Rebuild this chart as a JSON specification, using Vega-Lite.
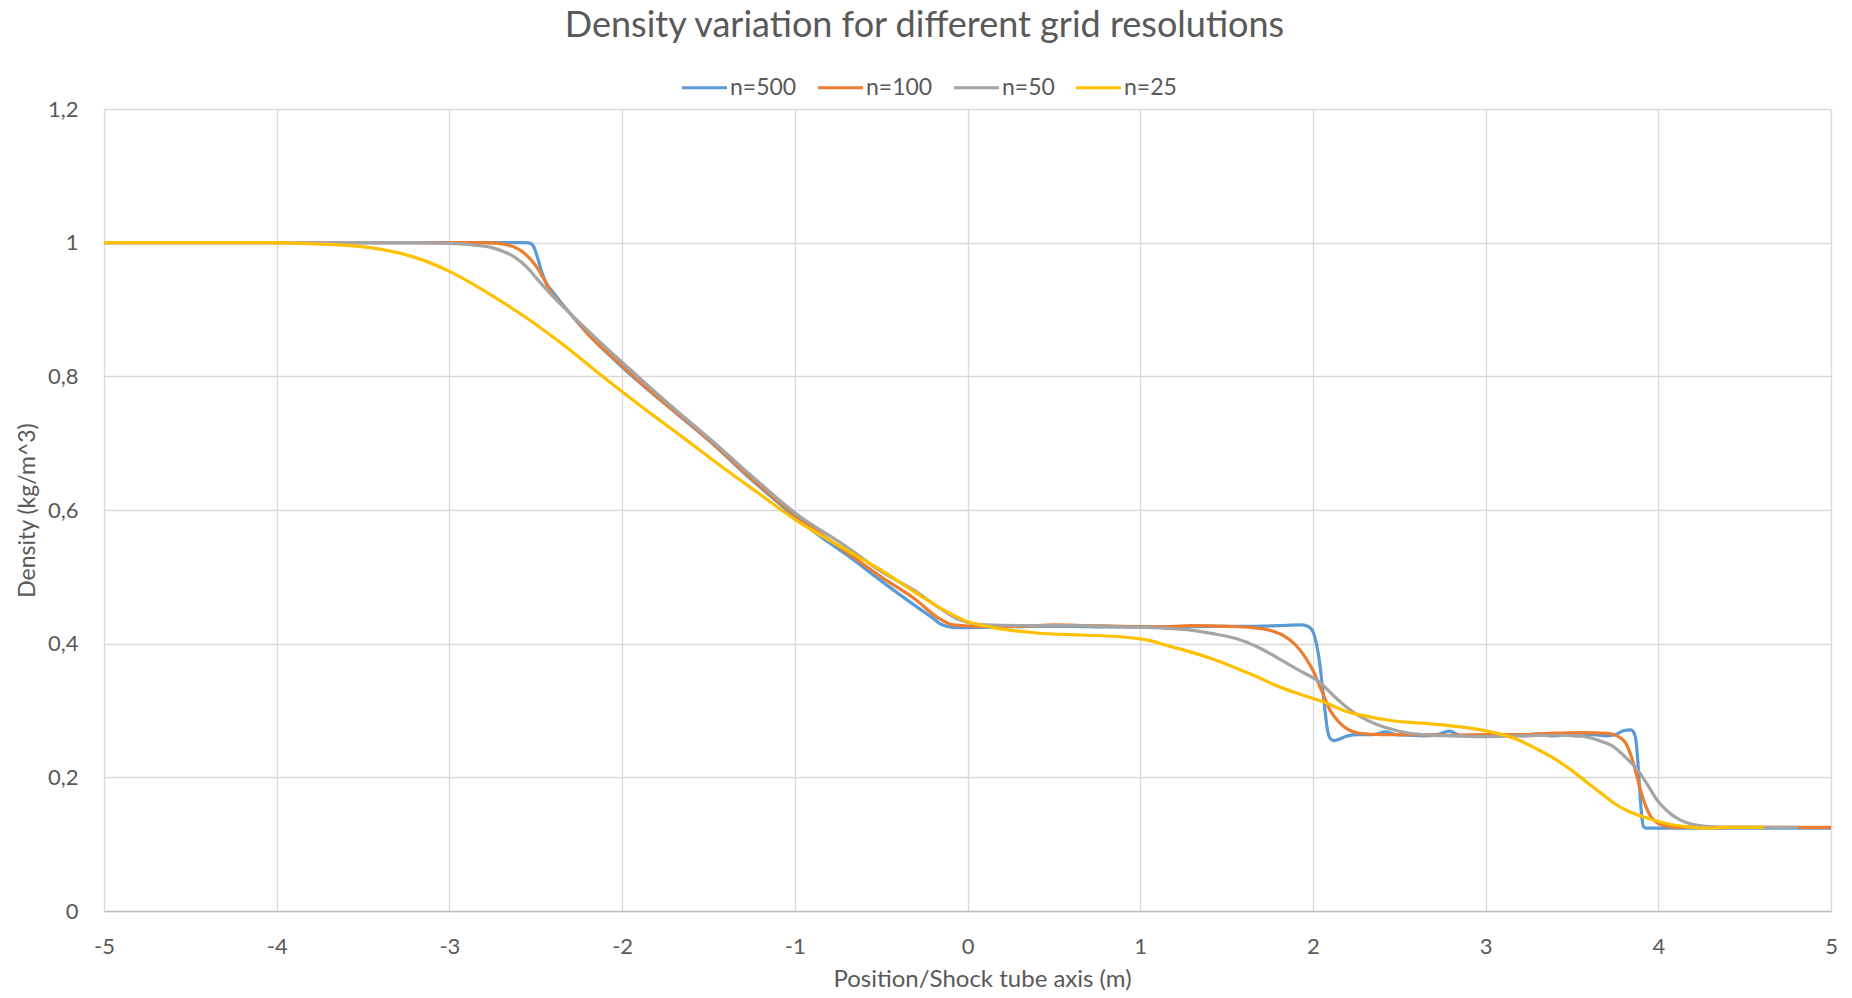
{
  "$schema": "https://vega.github.io/schema/vega-lite/v6.json",
  "autosize": {"type": "none"},
  "width": 1727,
  "height": 802,
  "padding": {"left": 104, "top": 109, "right": 21, "bottom": 87},
  "background": "white",
  "config": {
    "view": {"stroke": null},
    "font": "Lato"
  },
  "title": {
    "text": "Density variation for different grid resolutions",
    "font": "Lato",
    "fontSize": 36,
    "fontWeight": "normal",
    "color": "#595959",
    "anchor": "middle",
    "offset": 18,
    "dx": -43
  },
  "data": {
    "values": [
      {"n": "n=500", "x": -5, "rho": 1},
      {"n": "n=500", "x": -4, "rho": 1},
      {"n": "n=500", "x": -3, "rho": 1},
      {"n": "n=500", "x": -2.56, "rho": 1},
      {"n": "n=500", "x": -2.53, "rho": 0.999},
      {"n": "n=500", "x": -2.51, "rho": 0.993},
      {"n": "n=500", "x": -2.49, "rho": 0.978},
      {"n": "n=500", "x": -2.47, "rho": 0.96},
      {"n": "n=500", "x": -2.44, "rho": 0.94},
      {"n": "n=500", "x": -2.4, "rho": 0.926},
      {"n": "n=500", "x": -2.32, "rho": 0.9},
      {"n": "n=500", "x": -2.2, "rho": 0.864},
      {"n": "n=500", "x": -2.1, "rho": 0.838},
      {"n": "n=500", "x": -2.0, "rho": 0.814},
      {"n": "n=500", "x": -1.85, "rho": 0.78},
      {"n": "n=500", "x": -1.65, "rho": 0.737},
      {"n": "n=500", "x": -1.45, "rho": 0.693},
      {"n": "n=500", "x": -1.25, "rho": 0.645},
      {"n": "n=500", "x": -1.1, "rho": 0.612},
      {"n": "n=500", "x": -1.0, "rho": 0.59},
      {"n": "n=500", "x": -0.85, "rho": 0.56},
      {"n": "n=500", "x": -0.7, "rho": 0.533},
      {"n": "n=500", "x": -0.5, "rho": 0.494},
      {"n": "n=500", "x": -0.31, "rho": 0.458},
      {"n": "n=500", "x": -0.2, "rho": 0.438},
      {"n": "n=500", "x": -0.16, "rho": 0.43},
      {"n": "n=500", "x": -0.12, "rho": 0.426},
      {"n": "n=500", "x": -0.08, "rho": 0.424},
      {"n": "n=500", "x": 0, "rho": 0.424},
      {"n": "n=500", "x": 0.2, "rho": 0.425},
      {"n": "n=500", "x": 0.4, "rho": 0.426},
      {"n": "n=500", "x": 0.6, "rho": 0.426},
      {"n": "n=500", "x": 0.8, "rho": 0.425},
      {"n": "n=500", "x": 1.0, "rho": 0.425},
      {"n": "n=500", "x": 1.2, "rho": 0.425},
      {"n": "n=500", "x": 1.4, "rho": 0.426},
      {"n": "n=500", "x": 1.6, "rho": 0.426},
      {"n": "n=500", "x": 1.8, "rho": 0.427},
      {"n": "n=500", "x": 1.93, "rho": 0.428},
      {"n": "n=500", "x": 1.97, "rho": 0.426},
      {"n": "n=500", "x": 2.0, "rho": 0.418},
      {"n": "n=500", "x": 2.02, "rho": 0.4},
      {"n": "n=500", "x": 2.04, "rho": 0.37},
      {"n": "n=500", "x": 2.055, "rho": 0.335},
      {"n": "n=500", "x": 2.07, "rho": 0.3},
      {"n": "n=500", "x": 2.085, "rho": 0.27},
      {"n": "n=500", "x": 2.1, "rho": 0.258},
      {"n": "n=500", "x": 2.12, "rho": 0.255},
      {"n": "n=500", "x": 2.15, "rho": 0.257},
      {"n": "n=500", "x": 2.2, "rho": 0.262},
      {"n": "n=500", "x": 2.26, "rho": 0.264},
      {"n": "n=500", "x": 2.35, "rho": 0.264},
      {"n": "n=500", "x": 2.42, "rho": 0.268},
      {"n": "n=500", "x": 2.48, "rho": 0.264},
      {"n": "n=500", "x": 2.56, "rho": 0.263},
      {"n": "n=500", "x": 2.64, "rho": 0.262},
      {"n": "n=500", "x": 2.72, "rho": 0.264},
      {"n": "n=500", "x": 2.79, "rho": 0.269},
      {"n": "n=500", "x": 2.85, "rho": 0.263},
      {"n": "n=500", "x": 2.95, "rho": 0.262},
      {"n": "n=500", "x": 3.05, "rho": 0.262},
      {"n": "n=500", "x": 3.15, "rho": 0.264},
      {"n": "n=500", "x": 3.22, "rho": 0.262},
      {"n": "n=500", "x": 3.3, "rho": 0.265},
      {"n": "n=500", "x": 3.38, "rho": 0.262},
      {"n": "n=500", "x": 3.46, "rho": 0.263},
      {"n": "n=500", "x": 3.55, "rho": 0.262},
      {"n": "n=500", "x": 3.62, "rho": 0.264},
      {"n": "n=500", "x": 3.7, "rho": 0.262},
      {"n": "n=500", "x": 3.76, "rho": 0.265},
      {"n": "n=500", "x": 3.8, "rho": 0.27},
      {"n": "n=500", "x": 3.84, "rho": 0.271},
      {"n": "n=500", "x": 3.86, "rho": 0.266},
      {"n": "n=500", "x": 3.875, "rho": 0.245},
      {"n": "n=500", "x": 3.885, "rho": 0.21},
      {"n": "n=500", "x": 3.895, "rho": 0.17},
      {"n": "n=500", "x": 3.905, "rho": 0.14},
      {"n": "n=500", "x": 3.915, "rho": 0.126},
      {"n": "n=500", "x": 3.93, "rho": 0.124},
      {"n": "n=500", "x": 4.2, "rho": 0.124},
      {"n": "n=500", "x": 4.6, "rho": 0.124},
      {"n": "n=500", "x": 5, "rho": 0.124},

      {"n": "n=100", "x": -5, "rho": 1},
      {"n": "n=100", "x": -4, "rho": 1},
      {"n": "n=100", "x": -3, "rho": 1},
      {"n": "n=100", "x": -2.8, "rho": 1},
      {"n": "n=100", "x": -2.72, "rho": 0.999},
      {"n": "n=100", "x": -2.67, "rho": 0.997},
      {"n": "n=100", "x": -2.62, "rho": 0.993},
      {"n": "n=100", "x": -2.58, "rho": 0.987},
      {"n": "n=100", "x": -2.53, "rho": 0.975},
      {"n": "n=100", "x": -2.49, "rho": 0.962},
      {"n": "n=100", "x": -2.45, "rho": 0.944},
      {"n": "n=100", "x": -2.41, "rho": 0.925},
      {"n": "n=100", "x": -2.36, "rho": 0.91},
      {"n": "n=100", "x": -2.3, "rho": 0.894},
      {"n": "n=100", "x": -2.2, "rho": 0.864},
      {"n": "n=100", "x": -2.0, "rho": 0.816},
      {"n": "n=100", "x": -1.85, "rho": 0.781},
      {"n": "n=100", "x": -1.65, "rho": 0.738},
      {"n": "n=100", "x": -1.45, "rho": 0.694},
      {"n": "n=100", "x": -1.25, "rho": 0.647},
      {"n": "n=100", "x": -1.0, "rho": 0.593},
      {"n": "n=100", "x": -0.7, "rho": 0.537},
      {"n": "n=100", "x": -0.5, "rho": 0.5},
      {"n": "n=100", "x": -0.31, "rho": 0.468},
      {"n": "n=100", "x": -0.16, "rho": 0.437},
      {"n": "n=100", "x": -0.08, "rho": 0.428},
      {"n": "n=100", "x": 0.05, "rho": 0.426},
      {"n": "n=100", "x": 0.3, "rho": 0.426},
      {"n": "n=100", "x": 0.5, "rho": 0.428},
      {"n": "n=100", "x": 0.7, "rho": 0.427},
      {"n": "n=100", "x": 0.9, "rho": 0.426},
      {"n": "n=100", "x": 1.1, "rho": 0.425},
      {"n": "n=100", "x": 1.3, "rho": 0.427},
      {"n": "n=100", "x": 1.5, "rho": 0.426},
      {"n": "n=100", "x": 1.65, "rho": 0.424},
      {"n": "n=100", "x": 1.75, "rho": 0.42},
      {"n": "n=100", "x": 1.83, "rho": 0.412},
      {"n": "n=100", "x": 1.9, "rho": 0.398},
      {"n": "n=100", "x": 1.96, "rho": 0.378},
      {"n": "n=100", "x": 2.0, "rho": 0.36},
      {"n": "n=100", "x": 2.05, "rho": 0.33},
      {"n": "n=100", "x": 2.1, "rho": 0.3},
      {"n": "n=100", "x": 2.15, "rho": 0.283},
      {"n": "n=100", "x": 2.2, "rho": 0.272},
      {"n": "n=100", "x": 2.27, "rho": 0.266},
      {"n": "n=100", "x": 2.4, "rho": 0.264},
      {"n": "n=100", "x": 2.6, "rho": 0.264},
      {"n": "n=100", "x": 2.8, "rho": 0.263},
      {"n": "n=100", "x": 3.0, "rho": 0.264},
      {"n": "n=100", "x": 3.2, "rho": 0.264},
      {"n": "n=100", "x": 3.4, "rho": 0.266},
      {"n": "n=100", "x": 3.55, "rho": 0.267},
      {"n": "n=100", "x": 3.7, "rho": 0.266},
      {"n": "n=100", "x": 3.76, "rho": 0.262},
      {"n": "n=100", "x": 3.81, "rho": 0.252},
      {"n": "n=100", "x": 3.84, "rho": 0.234},
      {"n": "n=100", "x": 3.87, "rho": 0.208},
      {"n": "n=100", "x": 3.9, "rho": 0.178},
      {"n": "n=100", "x": 3.93, "rho": 0.155},
      {"n": "n=100", "x": 3.96, "rho": 0.14},
      {"n": "n=100", "x": 4.0, "rho": 0.131},
      {"n": "n=100", "x": 4.05, "rho": 0.127},
      {"n": "n=100", "x": 4.1, "rho": 0.125},
      {"n": "n=100", "x": 4.5, "rho": 0.125},
      {"n": "n=100", "x": 5, "rho": 0.125},

      {"n": "n=50", "x": -5, "rho": 1},
      {"n": "n=50", "x": -4, "rho": 1},
      {"n": "n=50", "x": -3.2, "rho": 1},
      {"n": "n=50", "x": -3.0, "rho": 0.999},
      {"n": "n=50", "x": -2.88, "rho": 0.997},
      {"n": "n=50", "x": -2.76, "rho": 0.993},
      {"n": "n=50", "x": -2.68, "rho": 0.986},
      {"n": "n=50", "x": -2.62, "rho": 0.978},
      {"n": "n=50", "x": -2.55, "rho": 0.963},
      {"n": "n=50", "x": -2.49, "rho": 0.945},
      {"n": "n=50", "x": -2.42, "rho": 0.925},
      {"n": "n=50", "x": -2.36, "rho": 0.909},
      {"n": "n=50", "x": -2.18, "rho": 0.864},
      {"n": "n=50", "x": -2.0, "rho": 0.821},
      {"n": "n=50", "x": -1.85, "rho": 0.786},
      {"n": "n=50", "x": -1.65, "rho": 0.741},
      {"n": "n=50", "x": -1.45, "rho": 0.697},
      {"n": "n=50", "x": -1.25, "rho": 0.651},
      {"n": "n=50", "x": -1.0, "rho": 0.596},
      {"n": "n=50", "x": -0.7, "rho": 0.545},
      {"n": "n=50", "x": -0.5, "rho": 0.508},
      {"n": "n=50", "x": -0.31, "rho": 0.48},
      {"n": "n=50", "x": -0.16, "rho": 0.453},
      {"n": "n=50", "x": -0.05, "rho": 0.436},
      {"n": "n=50", "x": 0.1, "rho": 0.428},
      {"n": "n=50", "x": 0.3, "rho": 0.427},
      {"n": "n=50", "x": 0.6, "rho": 0.427},
      {"n": "n=50", "x": 0.9, "rho": 0.425},
      {"n": "n=50", "x": 1.15, "rho": 0.423},
      {"n": "n=50", "x": 1.3, "rho": 0.42},
      {"n": "n=50", "x": 1.42, "rho": 0.415},
      {"n": "n=50", "x": 1.55, "rho": 0.408},
      {"n": "n=50", "x": 1.68, "rho": 0.395},
      {"n": "n=50", "x": 1.8, "rho": 0.378},
      {"n": "n=50", "x": 1.92, "rho": 0.36},
      {"n": "n=50", "x": 2.04, "rho": 0.342},
      {"n": "n=50", "x": 2.12, "rho": 0.322},
      {"n": "n=50", "x": 2.19, "rho": 0.306},
      {"n": "n=50", "x": 2.28, "rho": 0.29},
      {"n": "n=50", "x": 2.37, "rho": 0.279},
      {"n": "n=50", "x": 2.5, "rho": 0.269},
      {"n": "n=50", "x": 2.63, "rho": 0.264},
      {"n": "n=50", "x": 2.8, "rho": 0.262},
      {"n": "n=50", "x": 3.0, "rho": 0.261},
      {"n": "n=50", "x": 3.2, "rho": 0.262},
      {"n": "n=50", "x": 3.4, "rho": 0.263},
      {"n": "n=50", "x": 3.55, "rho": 0.262},
      {"n": "n=50", "x": 3.62, "rho": 0.258},
      {"n": "n=50", "x": 3.68, "rho": 0.253},
      {"n": "n=50", "x": 3.74, "rho": 0.246},
      {"n": "n=50", "x": 3.81, "rho": 0.23},
      {"n": "n=50", "x": 3.88, "rho": 0.211},
      {"n": "n=50", "x": 3.94, "rho": 0.188},
      {"n": "n=50", "x": 3.99, "rho": 0.167},
      {"n": "n=50", "x": 4.05, "rho": 0.15},
      {"n": "n=50", "x": 4.12, "rho": 0.137},
      {"n": "n=50", "x": 4.19, "rho": 0.13},
      {"n": "n=50", "x": 4.26, "rho": 0.127},
      {"n": "n=50", "x": 4.4, "rho": 0.125},
      {"n": "n=50", "x": 4.81, "rho": 0.125},

      {"n": "n=25", "x": -5, "rho": 1},
      {"n": "n=25", "x": -4.4, "rho": 1},
      {"n": "n=25", "x": -4, "rho": 1},
      {"n": "n=25", "x": -3.86, "rho": 0.999},
      {"n": "n=25", "x": -3.6, "rho": 0.996},
      {"n": "n=25", "x": -3.42, "rho": 0.991},
      {"n": "n=25", "x": -3.2, "rho": 0.978},
      {"n": "n=25", "x": -3.0, "rho": 0.957},
      {"n": "n=25", "x": -2.76, "rho": 0.922},
      {"n": "n=25", "x": -2.54, "rho": 0.885},
      {"n": "n=25", "x": -2.32, "rho": 0.843},
      {"n": "n=25", "x": -2.114, "rho": 0.8},
      {"n": "n=25", "x": -1.9, "rho": 0.757},
      {"n": "n=25", "x": -1.65, "rho": 0.709},
      {"n": "n=25", "x": -1.45, "rho": 0.67},
      {"n": "n=25", "x": -1.21, "rho": 0.625},
      {"n": "n=25", "x": -1.0, "rho": 0.586},
      {"n": "n=25", "x": -0.7, "rho": 0.54},
      {"n": "n=25", "x": -0.5, "rho": 0.51},
      {"n": "n=25", "x": -0.31, "rho": 0.478},
      {"n": "n=25", "x": -0.12, "rho": 0.448},
      {"n": "n=25", "x": 0, "rho": 0.433},
      {"n": "n=25", "x": 0.15, "rho": 0.424},
      {"n": "n=25", "x": 0.4, "rho": 0.416},
      {"n": "n=25", "x": 0.65, "rho": 0.413},
      {"n": "n=25", "x": 0.9, "rho": 0.41},
      {"n": "n=25", "x": 1.05, "rho": 0.405},
      {"n": "n=25", "x": 1.16, "rho": 0.397},
      {"n": "n=25", "x": 1.3, "rho": 0.387},
      {"n": "n=25", "x": 1.42, "rho": 0.377},
      {"n": "n=25", "x": 1.55, "rho": 0.364},
      {"n": "n=25", "x": 1.68, "rho": 0.35},
      {"n": "n=25", "x": 1.8, "rho": 0.336},
      {"n": "n=25", "x": 1.93, "rho": 0.324},
      {"n": "n=25", "x": 2.06, "rho": 0.313},
      {"n": "n=25", "x": 2.19, "rho": 0.299},
      {"n": "n=25", "x": 2.3, "rho": 0.292},
      {"n": "n=25", "x": 2.45, "rho": 0.285},
      {"n": "n=25", "x": 2.63, "rho": 0.281},
      {"n": "n=25", "x": 2.8, "rho": 0.277},
      {"n": "n=25", "x": 2.97, "rho": 0.271},
      {"n": "n=25", "x": 3.08, "rho": 0.265},
      {"n": "n=25", "x": 3.19, "rho": 0.256},
      {"n": "n=25", "x": 3.3, "rho": 0.242},
      {"n": "n=25", "x": 3.41, "rho": 0.226},
      {"n": "n=25", "x": 3.5, "rho": 0.21},
      {"n": "n=25", "x": 3.59, "rho": 0.192},
      {"n": "n=25", "x": 3.67, "rho": 0.176},
      {"n": "n=25", "x": 3.74, "rho": 0.162},
      {"n": "n=25", "x": 3.82, "rho": 0.15},
      {"n": "n=25", "x": 3.9, "rho": 0.142},
      {"n": "n=25", "x": 4.0, "rho": 0.134},
      {"n": "n=25", "x": 4.08, "rho": 0.129},
      {"n": "n=25", "x": 4.17, "rho": 0.126},
      {"n": "n=25", "x": 4.26, "rho": 0.124},
      {"n": "n=25", "x": 4.4, "rho": 0.125},
      {"n": "n=25", "x": 4.61, "rho": 0.125}
    ]
  },
  "encoding": {
    "x": {
      "field": "x",
      "type": "quantitative",
      "scale": {"domain": [-5, 5], "nice": false, "zero": false},
      "axis": {
        "title": "Position/Shock tube axis (m)",
        "values": [-5, -4, -3, -2, -1, 0, 1, 2, 3, 4, 5],
        "labelExpr": "'' + datum.value",
        "labelFlush": false,
        "labelOverlap": false,
        "grid": true,
        "gridColor": "#d9d9d9",
        "gridWidth": 1.3,
        "ticks": false,
        "domainColor": "#bfbfbf",
        "domainWidth": 1.6,
        "labelFont": "Lato",
        "labelFontSize": 22,
        "labelColor": "#595959",
        "labelPadding": 25,
        "titleFont": "Lato",
        "titleFontSize": 24,
        "titleFontWeight": "normal",
        "titleColor": "#595959",
        "titlePadding": 10,
        "titleX": 878
      }
    },
    "y": {
      "field": "rho",
      "type": "quantitative",
      "scale": {"domain": [0, 1.2], "nice": false},
      "axis": {
        "title": "Density (kg/m^3)",
        "values": [0, 0.2, 0.4, 0.6, 0.8, 1, 1.2],
        "labelExpr": "replace(format(datum.value, '.1~f'), '.', ',')",
        "grid": true,
        "gridColor": "#d9d9d9",
        "gridWidth": 1.3,
        "ticks": false,
        "domain": false,
        "labelFont": "Lato",
        "labelFontSize": 22,
        "labelColor": "#595959",
        "labelPadding": 26,
        "titleFont": "Lato",
        "titleFontSize": 23,
        "titleFontWeight": "normal",
        "titleColor": "#595959",
        "titlePadding": 8
      }
    },
    "color": {
      "field": "n",
      "type": "nominal",
      "scale": {
        "domain": ["n=500", "n=100", "n=50", "n=25"],
        "range": ["#5b9bd5", "#ed7d31", "#a5a5a5", "#ffc000"]
      },
      "legend": {
        "title": null,
        "orient": "none",
        "direction": "horizontal",
        "legendX": 576,
        "legendY": -46,
        "padding": 0,
        "symbolType": "stroke",
        "symbolSize": 2025,
        "symbolStrokeWidth": 3.2,
        "labelFont": "Lato",
        "labelFontSize": 23,
        "labelColor": "#595959",
        "labelOffset": 1,
        "columnPadding": 14
      }
    }
  },
  "layer": [
    {
      "transform": [{"filter": "datum.n === 'n=500'"}],
      "mark": {"type": "line", "strokeWidth": 3.2, "interpolate": "monotone"}
    },
    {
      "transform": [{"filter": "datum.n === 'n=100'"}],
      "mark": {"type": "line", "strokeWidth": 3.2, "interpolate": "monotone"}
    },
    {
      "transform": [{"filter": "datum.n === 'n=50'"}],
      "mark": {"type": "line", "strokeWidth": 3.2, "interpolate": "monotone"}
    },
    {
      "transform": [{"filter": "datum.n === 'n=25'"}],
      "mark": {"type": "line", "strokeWidth": 3.2, "interpolate": "monotone"}
    }
  ]
}
